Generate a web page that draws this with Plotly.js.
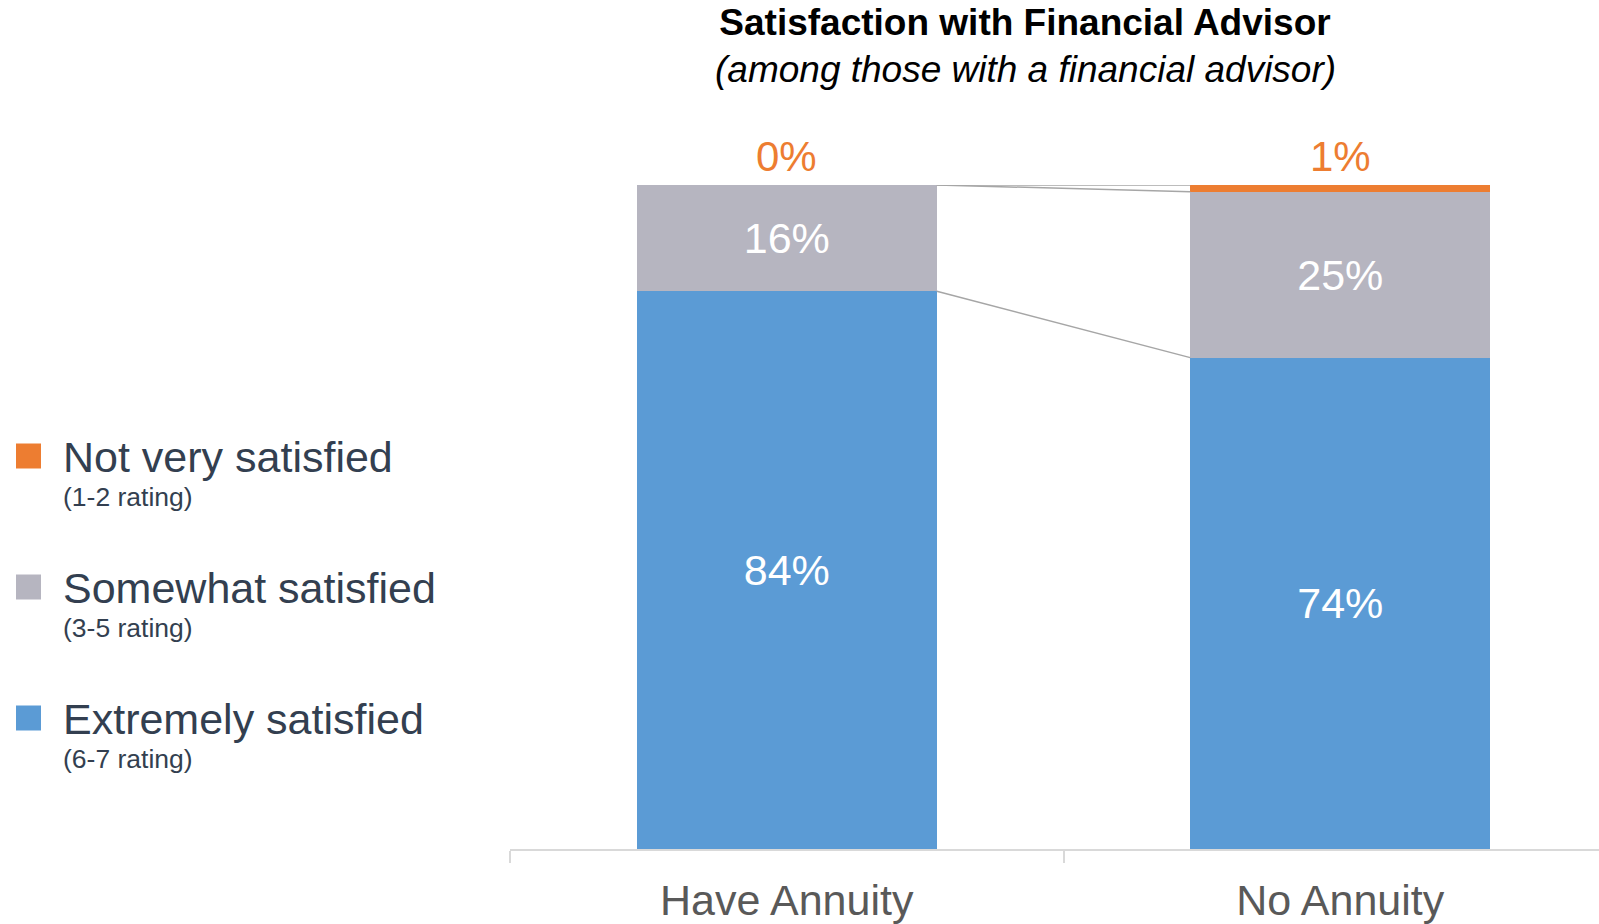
<!DOCTYPE html>
<html>
<head>
<meta charset="utf-8">
<script src="https://cdn.plot.ly/plotly-3.0.1.min.js"></script>
<style>
  html, body { margin: 0; padding: 0; background: #ffffff; }
  #chart { width: 1599px; height: 924px; }
</style>
</head>
<body>
<div id="chart"></div>
<script>
// ---- Data ----
const categories = ['Have Annuity', 'No Annuity'];
const extremelySatisfied = [84, 74];
const somewhatSatisfied = [16, 25];
const notVerySatisfied = [0, 1];

const seriesNames = ['Not very satisfied', 'Somewhat satisfied', 'Extremely satisfied'];
const seriesRatings = ['(1-2 rating)', '(3-5 rating)', '(6-7 rating)'];
const seriesColors = ['#ED7D31', '#B6B5C0', '#5B9BD5'];

// ---- Layout constants ----
const W = 1599, H = 924;
const FONT = 'Liberation Sans, Arial, sans-serif';
const BAR_W = 0.542;
const px = x => x / W;
const py = y => 1 - y / H;

const pct = v => v + '%';

const traces = [
  {
    type: 'bar', name: seriesNames[2], x: categories, y: extremelySatisfied,
    marker: { color: seriesColors[2] }, width: BAR_W,
    text: extremelySatisfied.map(pct), textposition: 'inside', insidetextanchor: 'middle',
    insidetextfont: { family: FONT, size: 43, color: '#ffffff' },
    hoverinfo: 'x+y+name', showlegend: false
  },
  {
    type: 'bar', name: seriesNames[1], x: categories, y: somewhatSatisfied,
    marker: { color: seriesColors[1] }, width: BAR_W,
    text: somewhatSatisfied.map(pct), textposition: 'inside', insidetextanchor: 'middle',
    insidetextfont: { family: FONT, size: 43, color: '#ffffff' },
    hoverinfo: 'x+y+name', showlegend: false
  },
  {
    type: 'bar', name: seriesNames[0], x: categories, y: notVerySatisfied,
    marker: { color: seriesColors[0] }, width: BAR_W,
    textposition: 'none',
    hoverinfo: 'x+y+name', showlegend: false
  }
];

// cumulative levels for connector lines
const levelBlue = extremelySatisfied.slice();
const levelGray = extremelySatisfied.map((v, i) => v + somewhatSatisfied[i]);
const levelOrange = levelGray.map((v, i) => v + notVerySatisfied[i]);

const shapes = [];
[levelBlue, levelGray, levelOrange].forEach(level => {
  shapes.push({
    type: 'line', xref: 'x', yref: 'y',
    x0: 0 + BAR_W / 2, x1: 1 - BAR_W / 2,
    y0: level[0], y1: level[1],
    line: { color: '#A6A6A6', width: 1.5 }
  });
});

// legend swatches (custom, larger squares)
const legendCenters = [456, 587, 718];
seriesNames.forEach((n, i) => {
  shapes.push({
    type: 'rect', xref: 'paper', yref: 'paper',
    x0: px(16), x1: px(41),
    y0: py(legendCenters[i] - 12.5), y1: py(legendCenters[i] + 12.5),
    fillcolor: seriesColors[i], line: { width: 0 }
  });
});

const annotations = [];
// subtitle line
annotations.push({
  xref: 'paper', yref: 'paper', x: px(1025), y: py(69),
  xanchor: 'center', yanchor: 'middle', showarrow: false,
  text: '<i>(among those with a financial advisor)</i>',
  font: { family: FONT, size: 37, color: '#000000' }
});
// orange labels above bars
categories.forEach((c, i) => {
  annotations.push({
    xref: 'x', yref: 'y', x: c, y: levelOrange[i],
    xanchor: 'center', yanchor: 'bottom', yshift: 3, showarrow: false,
    text: pct(notVerySatisfied[i]),
    font: { family: FONT, size: 42, color: seriesColors[0] }
  });
});
// legend text
seriesNames.forEach((n, i) => {
  annotations.push({
    xref: 'paper', yref: 'paper', x: px(61), y: py(legendCenters[i] + 1),
    xanchor: 'left', yanchor: 'middle', showarrow: false,
    text: n, font: { family: FONT, size: 43, color: '#333F50' }
  });
  annotations.push({
    xref: 'paper', yref: 'paper', x: px(61), y: py(legendCenters[i] + 41),
    xanchor: 'left', yanchor: 'middle', showarrow: false,
    text: seriesRatings[i], font: { family: FONT, size: 26.5, color: '#333F50' }
  });
});

const layout = {
  width: W, height: H,
  margin: { l: 0, r: 0, t: 0, b: 0, pad: 0 },
  paper_bgcolor: '#ffffff', plot_bgcolor: '#ffffff',
  barmode: 'stack',
  showlegend: false,
  title: {
    text: '<b>Satisfaction with Financial Advisor</b>',
    x: px(1025), xanchor: 'center', xref: 'paper',
    y: py(22), yanchor: 'middle', yref: 'container',
    font: { family: FONT, size: 37, color: '#000000' }
  },
  xaxis: {
    domain: [px(510), 1],
    range: [-0.5, -0.5 + 1089 / 553.5],
    type: 'category',
    showline: true, linecolor: '#D9D9D9', linewidth: 1.5,
    ticks: 'outside', tickson: 'boundaries', ticklen: 12, tickcolor: '#D9D9D9', tickwidth: 1.5,
    ticklabelstandoff: 13,
    tickfont: { family: FONT, size: 43, color: '#595959' },
    showgrid: false, zeroline: false, fixedrange: true
  },
  yaxis: {
    domain: [1 - 849 / H, 1 - 185 / H],
    range: [0, 100],
    visible: false, showgrid: false, zeroline: false, fixedrange: true
  },
  shapes: shapes,
  annotations: annotations
};

Plotly.newPlot('chart', traces, layout, { displayModeBar: false, responsive: false });
</script>
</body>
</html>
